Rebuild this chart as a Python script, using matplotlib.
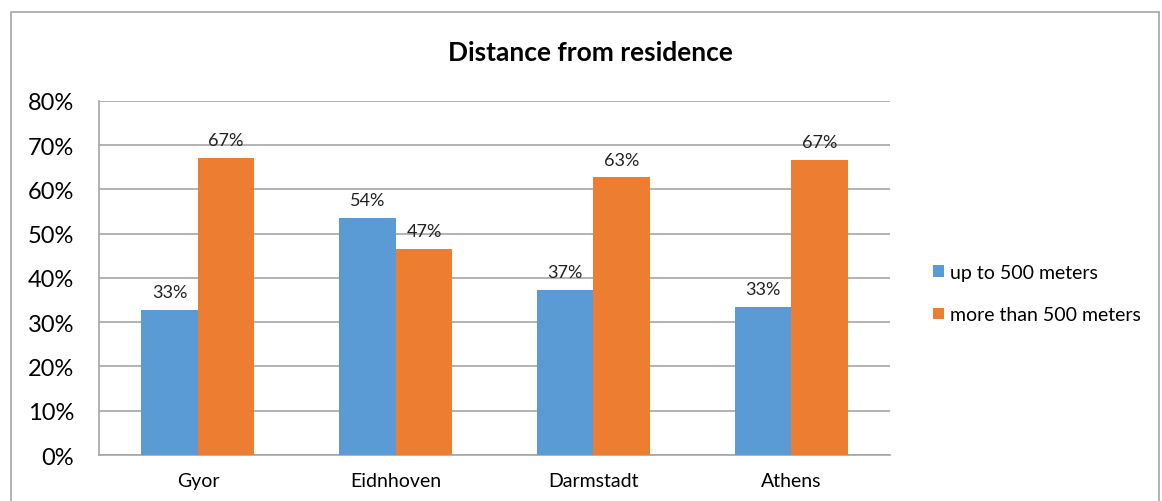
import matplotlib.pyplot as plt
import numpy as np
from matplotlib.patches import Rectangle

plt.rcParams['font.family'] = ['Lato', 'DejaVu Sans']

cities = ['Gyor', 'Eidnhoven', 'Darmstadt', 'Athens']
up_to_500 = [32.8, 53.5, 37.3, 33.4]
more_than_500 = [67.2, 46.5, 62.7, 66.6]
series_names = ['up to 500 meters', 'more than 500 meters']
colors = ['#5B9BD5', '#ED7D31']

fig = plt.figure(figsize=(11.62, 5.02), dpi=100)
ax = fig.add_axes([0.0852, 0.0916, 0.6808, 0.7054])

x = np.arange(len(cities))
w = 0.286
b1 = ax.bar(x - w / 2, up_to_500, w, color=colors[0], label=series_names[0], zorder=3)
b2 = ax.bar(x + w / 2, more_than_500, w, color=colors[1], label=series_names[1], zorder=3)

for bars in (b1, b2):
    for b in bars:
        h = b.get_height()
        ax.annotate('%d%%' % int(np.floor(h + 0.5)), (b.get_x() + b.get_width() / 2, h),
                    xytext=(0, 7), textcoords='offset points',
                    ha='center', va='bottom', fontsize=13, color='#222222')

ax.set_xlim(-0.5, len(cities) - 0.5)
ax.set_ylim(0, 80)
ax.set_yticks(range(0, 81, 10))
ax.set_yticklabels(['%d%%' % v for v in range(0, 81, 10)], fontsize=17)
ax.set_xticks(x)
ax.set_xticklabels(cities, fontsize=14)
ax.tick_params(axis='both', length=0)
ax.tick_params(axis='x', pad=12)
ax.tick_params(axis='y', pad=18)
ax.grid(axis='y', color='#A6A6A6', linewidth=1.2, zorder=0)
for s in ['top', 'right']:
    ax.spines[s].set_visible(False)
for s in ['left', 'bottom']:
    ax.spines[s].set_color('#A6A6A6')
    ax.spines[s].set_linewidth(1.2)

fig.text(0.508, 0.895, 'Distance from residence', ha='center', va='center',
         fontsize=19, fontweight='bold')

leg = fig.legend(loc='center left', bbox_to_anchor=(0.788, 0.413), frameon=False,
                 fontsize=14, handlelength=0.55, handleheight=0.55,
                 handletextpad=0.3, labelspacing=1.3)

fig.patches.append(Rectangle((11 / 1162, -0.01), 1148 / 1162, 1 - 13 / 502 + 0.01,
                             transform=fig.transFigure, fill=False,
                             edgecolor='#A6A6A6', linewidth=1.2))

plt.savefig('out.png', dpi=100)
